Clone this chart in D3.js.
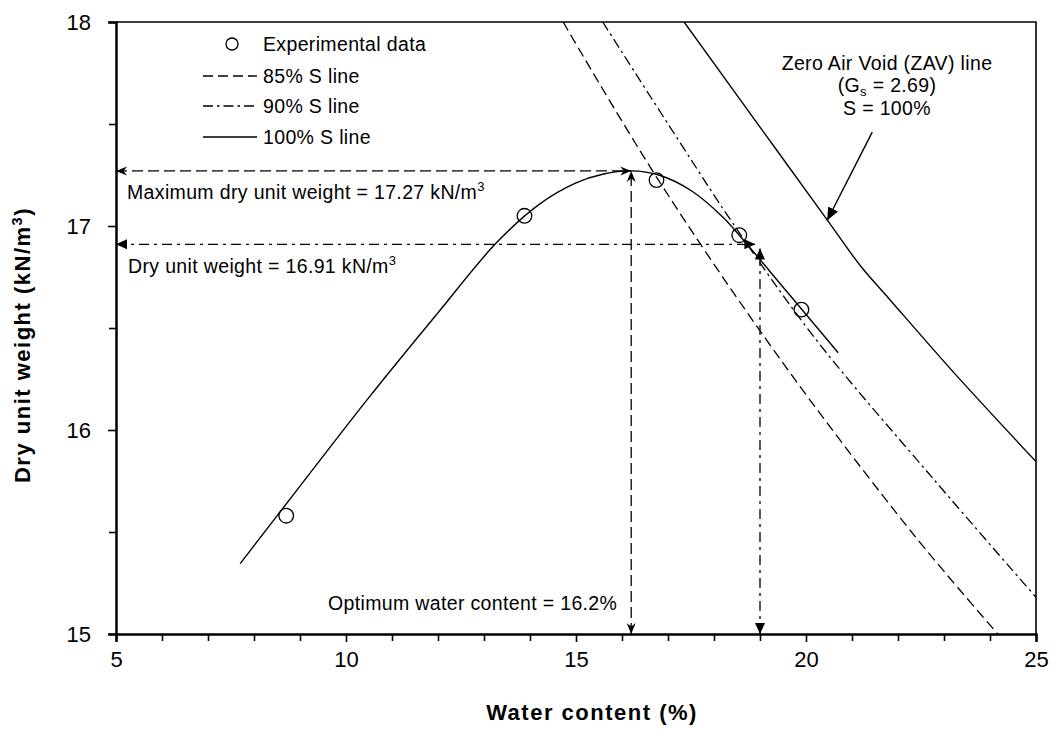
<!DOCTYPE html>
<html>
<head>
<meta charset="utf-8">
<script src="https://cdn.jsdelivr.net/npm/d3@7"></script>
<style>
  html, body { margin: 0; padding: 0; background: #fff; }
  svg { display: block; font-family: "Liberation Sans", Arial, Helvetica, sans-serif; }
</style>
</head>
<body>
<svg id="chart" width="1061" height="729"></svg>
<script>
// ---------------- DATA ----------------
const xTickValues = [5, 10, 15, 20, 25];
const yTickValues = [15, 16, 17, 18];
const xMinorTicks = [6, 7, 8, 9, 11, 12, 13, 14, 16, 17, 18, 19, 21, 22, 23, 24];
const yMinorTicks = [15.5, 16.5, 17.5];

// experimental data (water content %, dry unit weight kN/m3)
const expWater = [8.7, 13.88, 16.75, 18.55, 19.9];
const expDry   = [15.58, 17.05, 17.225, 16.955, 16.59];

// fitted compaction curve
const fitWater = [7.7, 9.0, 10.5, 12.0, 13.28, 14.2, 15.0, 15.6, 16.2, 16.8, 17.5, 18.2, 18.55, 19.6, 20.7];
const fitDry   = [15.345, 15.725, 16.16, 16.575, 16.92, 17.106, 17.211, 17.255, 17.27, 17.25, 17.174, 17.042, 16.955, 16.674, 16.379];

// saturation lines
const s85Water = [14.72, 16.75, 19.43, 22.33, 24.17];
const s85Dry   = [18.0, 17.24, 16.35, 15.49, 15.0];
const s90Water = [15.58, 17.23, 18.42, 20.16, 22.77, 25.0];
const s90Dry   = [18.0, 17.42, 17.01, 16.46, 15.76, 15.18];
const zavWater = [17.35, 19.0, 20.46, 21.2, 21.8, 23.2, 25.0];
const zavDry   = [18.0, 17.485, 17.03, 16.80, 16.645, 16.285, 15.845];

// annotation values
const optWater = 16.2;
const maxDry = 17.27;
const dryValue = 16.91;
const dryWater = 19.0;
const dryArrowEndWater = 18.9;
const zavArrowFrom = [21.44, 17.46];
const zavArrowTo = [20.46, 17.027];

const legendLabels = ["Experimental data", "85% S line", "90% S line", "100% S line"];

// ---------------- LAYOUT ----------------
const svg = d3.select("#chart");
const pLeft = 116, pRight = 1036, pTop = 22, pBottom = 634;
const x = d3.scaleLinear().domain([5, 25]).range([pLeft, pRight]);
const y = d3.scaleLinear().domain([15, 18]).range([pBottom, pTop]);

const DASH = "10,5";
const DASHDOT = "10,4,2.5,4";

// markers
const defs = svg.append("defs");
defs.append("clipPath").attr("id", "plotclip")
  .append("rect").attr("x", pLeft).attr("y", pTop).attr("width", pRight - pLeft).attr("height", pBottom - pTop);

function marker(id, d) {
  defs.append("marker")
    .attr("id", id)
    .attr("viewBox", "-13 -7 14 14")
    .attr("refX", 0).attr("refY", 0)
    .attr("markerWidth", 14).attr("markerHeight", 14)
    .attr("markerUnits", "userSpaceOnUse")
    .attr("orient", "auto-start-reverse")
    .append("path").attr("d", d).attr("fill", "#000");
}
marker("stealth", "M0,0 L-11,-4.5 L-7.5,0 L-11,4.5 Z");
marker("tri", "M0,0 L-11,-5 L-11,5 Z");
marker("zavtri", "M0,0 L-13,-5.5 L-13,5.5 Z");

// ---------------- AXES ----------------
const xAxis = d3.axisBottom(x).tickValues(xTickValues).tickSize(8).tickPadding(9).tickFormat(d3.format("d"));
const yAxis = d3.axisLeft(y).tickValues(yTickValues).tickSize(8).tickPadding(17).tickFormat(d3.format("d"));
const xMinor = d3.axisBottom(x).tickValues(xMinorTicks).tickSize(7).tickFormat("");
const yMinor = d3.axisLeft(y).tickValues(yMinorTicks).tickSize(7).tickFormat("");

function styleAxis(g) {
  g.selectAll(".domain").attr("stroke", "#000").attr("stroke-width", 2);
  g.selectAll(".tick line").attr("stroke", "#000").attr("stroke-width", 1.6);
  g.selectAll(".tick text").attr("fill", "#000").style("font-size", "22px")
    .style("font-family", "'Liberation Sans', Arial, sans-serif");
}
svg.append("g").attr("transform", `translate(0,${pBottom})`).call(xMinor).call(styleAxis);
svg.append("g").attr("transform", `translate(${pLeft},0)`).call(yMinor).call(styleAxis);
svg.append("g").attr("transform", `translate(0,${pBottom})`).call(xAxis).call(styleAxis);
svg.append("g").attr("transform", `translate(${pLeft},0)`).call(yAxis).call(styleAxis);

// frame (top & right)
svg.append("path")
  .attr("d", `M${pLeft},${pTop} H${pRight} V${pBottom}`)
  .attr("fill", "none").attr("stroke", "#000").attr("stroke-width", 1.6);

// axis titles
svg.append("text")
  .attr("x", 592).attr("y", 720)
  .attr("text-anchor", "middle")
  .style("font-size", "22px").style("font-weight", "bold").style("letter-spacing", "1.5px")
  .text("Water content (%)");

const yTitle = svg.append("text")
  .attr("transform", "translate(30,345) rotate(-90)")
  .attr("text-anchor", "middle")
  .style("font-size", "22px").style("font-weight", "bold").style("letter-spacing", "1.5px");
yTitle.append("tspan").text("Dry unit weight (kN/m");
yTitle.append("tspan").attr("dy", -8).style("font-size", "14.5px").text("3");
yTitle.append("tspan").attr("dy", 8).text(")");

// ---------------- LINES ----------------
const plot = svg.append("g").attr("clip-path", "url(#plotclip)");
const zip = (a, b) => a.map((v, i) => [v, b[i]]);
const smooth = d3.line().x(d => x(d[0])).y(d => y(d[1])).curve(d3.curveCatmullRom.alpha(0.5));

plot.append("path").attr("d", smooth(zip(s85Water, s85Dry)))
  .attr("fill", "none").attr("stroke", "#000").attr("stroke-width", 1.3).attr("stroke-dasharray", DASH);
plot.append("path").attr("d", smooth(zip(s90Water, s90Dry)))
  .attr("fill", "none").attr("stroke", "#000").attr("stroke-width", 1.3).attr("stroke-dasharray", DASHDOT);
plot.append("path").attr("d", smooth(zip(zavWater, zavDry)))
  .attr("fill", "none").attr("stroke", "#000").attr("stroke-width", 1.4);
plot.append("path").attr("d", smooth(zip(fitWater, fitDry)))
  .attr("fill", "none").attr("stroke", "#000").attr("stroke-width", 1.4);

// annotation arrows
function arrow(x1, y1, x2, y2, dash, mk) {
  svg.append("line")
    .attr("x1", x(x1)).attr("y1", y(y1)).attr("x2", x(x2)).attr("y2", y(y2))
    .attr("stroke", "#000").attr("stroke-width", 1.3)
    .attr("stroke-dasharray", dash)
    .attr("marker-start", `url(#${mk})`).attr("marker-end", `url(#${mk})`);
}
arrow(5, maxDry, optWater, maxDry, "11,5", "stealth");
arrow(optWater, 15, optWater, maxDry, "11,5", "stealth");
arrow(5, dryValue, dryArrowEndWater, dryValue, "10,5,3,5", "tri");
arrow(dryWater, 15, dryWater, dryValue - 0.02, "10,5,3,5", "tri");

svg.append("line")
  .attr("x1", x(zavArrowFrom[0])).attr("y1", y(zavArrowFrom[1]))
  .attr("x2", x(zavArrowTo[0])).attr("y2", y(zavArrowTo[1]))
  .attr("stroke", "#000").attr("stroke-width", 1.4)
  .attr("marker-end", "url(#zavtri)");

// experimental points
svg.append("g").selectAll("circle")
  .data(zip(expWater, expDry)).join("circle")
  .attr("cx", d => x(d[0])).attr("cy", d => y(d[1])).attr("r", 7.3)
  .attr("fill", "none").attr("stroke", "#000").attr("stroke-width", 1.3);

// ---------------- TEXT ANNOTATIONS ----------------
const annFont = "19.5px";
const annLS = "0.35px";
function supText(tx, ty, main, sup) {
  const t = svg.append("text").attr("x", tx).attr("y", ty)
    .style("font-size", annFont).style("letter-spacing", annLS);
  t.append("tspan").text(main);
  if (sup) t.append("tspan").attr("dy", -8).style("font-size", "13px").text(sup);
  return t;
}
supText(127, 199, "Maximum dry unit weight = 17.27 kN/m", "3");
supText(128, 273, "Dry unit weight = 16.91 kN/m", "3");
supText(328, 610, "Optimum water content = 16.2%");

// ZAV label
svg.append("text").attr("x", 887).attr("y", 70).attr("text-anchor", "middle")
  .style("font-size", annFont).style("letter-spacing", annLS).text("Zero Air Void (ZAV) line");
const gs = svg.append("text").attr("x", 887).attr("y", 92).attr("text-anchor", "middle")
  .style("font-size", annFont).style("letter-spacing", annLS);
gs.append("tspan").text("(G");
gs.append("tspan").attr("dy", 4).style("font-size", "13px").text("s");
gs.append("tspan").attr("dy", -4).text(" = 2.69)");
svg.append("text").attr("x", 887).attr("y", 115).attr("text-anchor", "middle")
  .style("font-size", annFont).style("letter-spacing", annLS).text("S = 100%");

// ---------------- LEGEND ----------------
const legX0 = 203, legX1 = 257, legTextX = 263;
const legRows = [44, 76, 106, 137];
const lg = svg.append("g");
lg.append("circle").attr("cx", 232).attr("cy", legRows[0]).attr("r", 6)
  .attr("fill", "none").attr("stroke", "#000").attr("stroke-width", 1.3);
lg.append("line").attr("x1", legX0).attr("x2", legX1).attr("y1", legRows[1]).attr("y2", legRows[1])
  .attr("stroke", "#000").attr("stroke-width", 1.3).attr("stroke-dasharray", DASH);
lg.append("line").attr("x1", legX0).attr("x2", legX1).attr("y1", legRows[2]).attr("y2", legRows[2])
  .attr("stroke", "#000").attr("stroke-width", 1.3).attr("stroke-dasharray", DASHDOT);
lg.append("line").attr("x1", legX0).attr("x2", legX1).attr("y1", legRows[3]).attr("y2", legRows[3])
  .attr("stroke", "#000").attr("stroke-width", 1.4);
lg.selectAll("text.leg").data(legendLabels).join("text").attr("class", "leg")
  .attr("x", legTextX).attr("y", (d, i) => legRows[i] + 6.5)
  .style("font-size", annFont).style("letter-spacing", annLS).text(d => d);
</script>
</body>
</html>
